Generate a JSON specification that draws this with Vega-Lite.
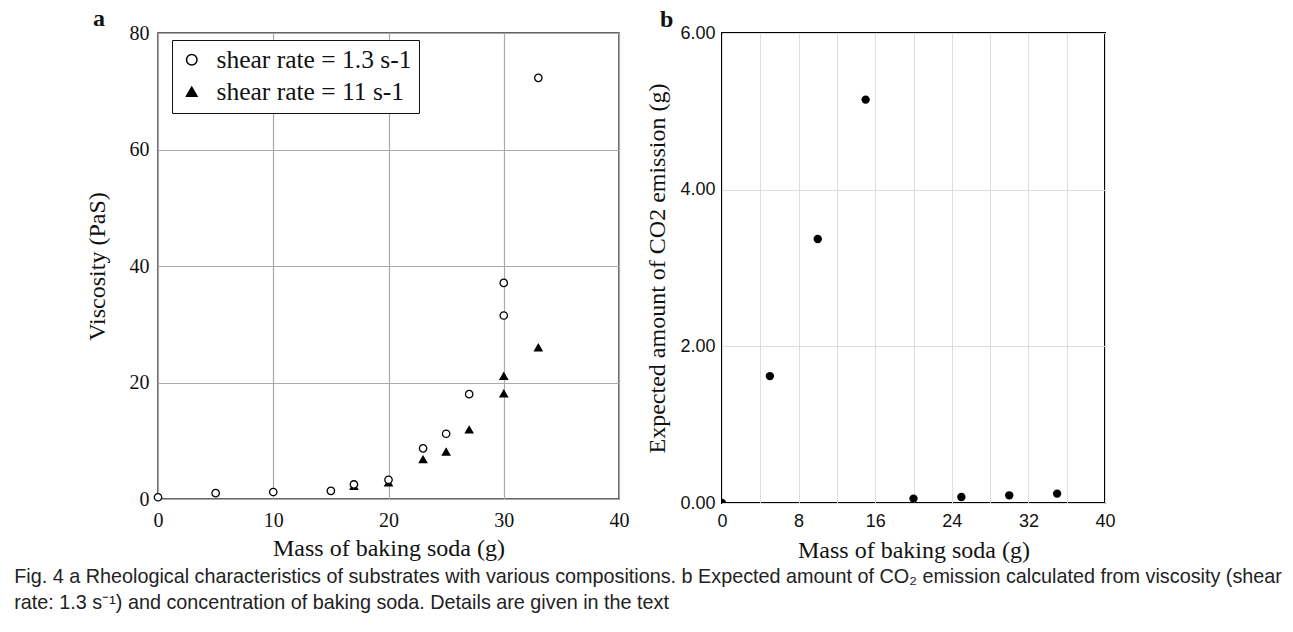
{
  "$schema": "https://vega.github.io/schema/vega-lite/v6.json",
  "background": "white",
  "padding": {"left": 14, "top": 6, "right": 10, "bottom": 10},
  "datasets": {
    "visc": [
      {"mass": 17, "viscosity": 2.2, "series": "shear rate = 11 s-1"},
      {"mass": 20, "viscosity": 2.8, "series": "shear rate = 11 s-1"},
      {"mass": 23, "viscosity": 6.8, "series": "shear rate = 11 s-1"},
      {"mass": 25, "viscosity": 8.1, "series": "shear rate = 11 s-1"},
      {"mass": 27, "viscosity": 11.9, "series": "shear rate = 11 s-1"},
      {"mass": 30, "viscosity": 18.1, "series": "shear rate = 11 s-1"},
      {"mass": 30, "viscosity": 21.1, "series": "shear rate = 11 s-1"},
      {"mass": 33, "viscosity": 26.0, "series": "shear rate = 11 s-1"},
      {"mass": 0, "viscosity": 0.3, "series": "shear rate = 1.3 s-1"},
      {"mass": 5, "viscosity": 1.0, "series": "shear rate = 1.3 s-1"},
      {"mass": 10, "viscosity": 1.2, "series": "shear rate = 1.3 s-1"},
      {"mass": 15, "viscosity": 1.4, "series": "shear rate = 1.3 s-1"},
      {"mass": 17, "viscosity": 2.5, "series": "shear rate = 1.3 s-1"},
      {"mass": 20, "viscosity": 3.3, "series": "shear rate = 1.3 s-1"},
      {"mass": 23, "viscosity": 8.7, "series": "shear rate = 1.3 s-1"},
      {"mass": 25, "viscosity": 11.2, "series": "shear rate = 1.3 s-1"},
      {"mass": 27, "viscosity": 18.0, "series": "shear rate = 1.3 s-1"},
      {"mass": 30, "viscosity": 31.5, "series": "shear rate = 1.3 s-1"},
      {"mass": 30, "viscosity": 37.1, "series": "shear rate = 1.3 s-1"},
      {"mass": 33, "viscosity": 72.3, "series": "shear rate = 1.3 s-1"}
    ],
    "co2": [
      {"mass": 0, "co2": 0.0},
      {"mass": 5, "co2": 1.62},
      {"mass": 10, "co2": 3.37},
      {"mass": 15, "co2": 5.15},
      {"mass": 20, "co2": 0.056},
      {"mass": 25, "co2": 0.077},
      {"mass": 30, "co2": 0.098},
      {"mass": 35, "co2": 0.12}
    ]
  },
  "title": {
    "text": [
      "Fig. 4  a Rheological characteristics of substrates with various compositions. b Expected amount of CO₂ emission calculated from viscosity (shear",
      "rate: 1.3 s⁻¹) and concentration of baking soda. Details are given in the text"
    ],
    "orient": "bottom",
    "anchor": "start",
    "frame": "bounds",
    "font": "Liberation Sans",
    "fontSize": 19.8,
    "fontWeight": "normal",
    "color": "#222",
    "lineHeight": 26,
    "offset": 4,
    "dx": -70
  },
  "spacing": 14,
  "hconcat": [
    {
      "width": 461,
      "height": 466,
      "view": {"stroke": "#333", "strokeWidth": 1.5},
      "title": {"text": "a", "anchor": "start", "frame": "bounds", "font": "Liberation Serif", "fontSize": 24, "fontWeight": "bold", "color": "#111", "dx": 8, "offset": -8},
      "data": {"name": "visc"},
      "mark": {"type": "point", "filled": true, "stroke": "black", "strokeWidth": 1.3, "opacity": 1, "size": 55, "clip": false},
      "encoding": {
        "x": {
          "field": "mass", "type": "quantitative",
          "scale": {"domain": [0, 40], "nice": false, "zero": false},
          "axis": {
            "values": [0, 10, 20, 30, 40], "title": "Mass of baking soda (g)", "labelFlush": false,
            "grid": true, "gridColor": "#aaa", "gridWidth": 1.2, "domain": false, "ticks": false,
            "labelFont": "Liberation Serif", "labelFontSize": 20, "labelColor": "#111", "labelPadding": 11,
            "titleFont": "Liberation Serif", "titleFontSize": 24, "titleFontWeight": "normal", "titleColor": "#111", "titlePadding": 6
          }
        },
        "y": {
          "field": "viscosity", "type": "quantitative",
          "scale": {"domain": [0, 80], "nice": false},
          "axis": {
            "values": [0, 20, 40, 60, 80], "title": "Viscosity (PaS)", "labelFlush": false,
            "grid": true, "gridColor": "#aaa", "gridWidth": 1.2, "domain": false, "ticks": false,
            "labelFont": "Liberation Serif", "labelFontSize": 20, "labelColor": "#111", "labelPadding": 9,
            "titleFont": "Liberation Serif", "titleFontSize": 24, "titleFontWeight": "normal", "titleColor": "#111", "titlePadding": 20
          }
        },
        "shape": {
          "field": "series", "type": "nominal",
          "scale": {"domain": ["shear rate = 1.3 s-1", "shear rate = 11 s-1"], "range": ["circle", "triangle-up"]},
          "legend": {
            "title": null, "orient": "none", "legendX": 14, "legendY": 7,
            "strokeColor": "#111", "fillColor": "white", "padding": 7,
            "labelFont": "Liberation Serif", "labelFontSize": 25.5, "labelColor": "#111", "labelLimit": 400,
            "symbolSize": 110, "rowPadding": 5, "labelOffset": 12,
            "encode": {"symbols": {"update": {"stroke": {"value": "black"}, "strokeWidth": {"value": 1.3}}}}
          }
        },
        "fill": {
          "field": "series", "type": "nominal",
          "scale": {"domain": ["shear rate = 1.3 s-1", "shear rate = 11 s-1"], "range": ["white", "black"]}
        }
      }
    },
    {
      "width": 383,
      "height": 470,
      "view": {"stroke": "black", "strokeWidth": 2},
      "title": {"text": "b", "anchor": "start", "frame": "bounds", "font": "Liberation Serif", "fontSize": 24, "fontWeight": "bold", "color": "#111", "dx": 14, "offset": -8},
      "data": {"name": "co2"},
      "mark": {"type": "circle", "color": "black", "size": 70, "opacity": 1, "clip": true},
      "encoding": {
        "x": {
          "field": "mass", "type": "quantitative",
          "scale": {"domain": [0, 40], "nice": false, "zero": false},
          "axis": {
            "values": [0, 4, 8, 12, 16, 20, 24, 28, 32, 36, 40], "labelFlush": false,
            "labelExpr": "datum.value % 8 === 0 ? datum.label : ''",
            "title": "Mass of baking soda (g)",
            "grid": true, "gridColor": "#ddd", "gridWidth": 1, "domain": false, "ticks": false,
            "labelFont": "Liberation Sans", "labelFontSize": 18, "labelColor": "#111", "labelPadding": 9,
            "titleFont": "Liberation Serif", "titleFontSize": 24, "titleFontWeight": "normal", "titleColor": "#111", "titlePadding": 8
          }
        },
        "y": {
          "field": "co2", "type": "quantitative",
          "scale": {"domain": [0, 6], "nice": false},
          "axis": {
            "values": [0, 2, 4, 6], "format": ".2f", "labelFlush": false,
            "title": "Expected amount of CO2 emission (g)",
            "grid": true, "gridColor": "#ddd", "gridWidth": 1.2, "domain": false, "ticks": false,
            "labelFont": "Liberation Sans", "labelFontSize": 18, "labelColor": "#111", "labelPadding": 7,
            "titleFont": "Liberation Serif", "titleFontSize": 24, "titleFontWeight": "normal", "titleColor": "#111", "titlePadding": 10
          }
        }
      }
    }
  ]
}
